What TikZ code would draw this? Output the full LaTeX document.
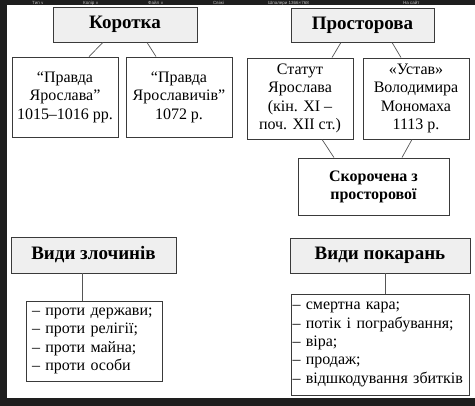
\documentclass[tikz,border=0pt]{standalone}
\usepackage{fontspec}
\setmainfont{Liberation Serif}
\newfontfamily\uisans{Liberation Sans}
\newfontfamily\symfont{DejaVu Sans}
\definecolor{hdrfill}{HTML}{EFEFEF}
\definecolor{edgec}{HTML}{3A3A3A}
\definecolor{linkc}{HTML}{555555}
\definecolor{darkbar}{HTML}{1E1E1E}
\definecolor{menutext}{HTML}{BDBDBD}
\begin{document}
\begin{tikzpicture}[x=1pt,y=-1pt,
  hdr/.style={draw=edgec, fill=hdrfill, line width=0.9pt, inner sep=0pt,
    font=\fontsize{19}{22}\selectfont\bfseries},
  srcbox/.style={draw=edgec, line width=0.9pt, inner sep=0pt, align=center,
    font=\fontsize{16}{18.6}\selectfont},
  listbox/.style={draw=edgec, line width=0.9pt, align=left,
    font=\fontsize{16}{18.4}\selectfont},
  link/.style={draw=linkc, line width=0.7pt},
  menu/.style={text=menutext, font=\uisans\fontsize{4.5}{5}\selectfont, inner sep=0pt}]
\useasboundingbox (0,0) rectangle (475,406);
% screenshot frame
\fill[darkbar] (0,0) rectangle (475,5.5);
\fill[darkbar] (0,0) rectangle (7,406);
\fill[darkbar] (0,398) rectangle (475,406);
% menu bar texts
\node[menu, anchor=base west] (m1) at (32,4.3) {Тип {\symfont\fontsize{4}{5}\selectfont∨}};
\node[menu, anchor=base west] (m2) at (83,4.3) {Колір {\symfont\fontsize{4}{5}\selectfont∨}};
\node[menu, anchor=base west] (m3) at (148,4.3) {Файл {\symfont\fontsize{4}{5}\selectfont∨}};
\node[menu, anchor=base west] (m4) at (213,4.3) {Свіжі};
\node[menu, anchor=base west] (m5) at (268,4.3) {Шпалери 1366×768};
\node[menu, anchor=base west] (m6) at (403,4.3) {На сайт};
% headers
\node[hdr, minimum width=144pt, minimum height=35pt] (korotka) at (125,24.5) {Коротка};
\node[hdr, minimum width=143pt, minimum height=34pt] (prost) at (362.5,25) {Просторова};
% source boxes
\node[srcbox, minimum width=106pt, minimum height=80pt] (pr1) at (65,97)
  {“Правда\\Ярослава”\\1015–1016 рр.};
\node[srcbox, minimum width=106pt, minimum height=80pt] (pr2) at (179,97)
  {“Правда\\Ярославичів”\\1072 р.};
\node[srcbox, minimum width=106pt, minimum height=81pt] (statut) at (300,98.5)
  {Статут\\Ярослава\\(кін. XI –\\поч. XII ст.)};
\node[srcbox, minimum width=106pt, minimum height=81pt] (ustav) at (416,98.5)
  {«Устав»\\Володимира\\Мономаха\\1113 р.};
\node[srcbox, minimum width=151pt, minimum height=57pt, font=\fontsize{16}{18}\selectfont\bfseries] (skor) at (373.5,186.5)
  {Скорочена з\\просторової};
% category headers
\node[hdr, minimum width=165pt, minimum height=36pt] (vz) at (93.5,255) {Види злочинів};
\node[hdr, minimum width=180pt, minimum height=35pt] (vp) at (380,255.5) {Види покарань};
% lists
\node[listbox, minimum width=136pt, minimum height=80pt, text width=124pt, inner xsep=6pt, inner ysep=0pt] (list1) at (94,341)
  {– проти держави;\\– проти релігії;\\– проти майна;\\– проти особи};
\node[listbox, minimum width=178pt, minimum height=101pt, text width=175pt, inner xsep=1.5pt, inner ysep=0pt] (list2) at (380,344.5)
  {– смертна кара;\\– потік і пограбування;\\– віра;\\– продаж;\\– відшкодування збитків};
% connectors
\draw[link] ([xshift=-22pt]korotka.south) -- ([xshift=24pt]pr1.north);
\draw[link] ([xshift=22pt]korotka.south) -- ([xshift=-23pt]pr2.north);
\draw[link] ([xshift=-21.5pt]prost.south) -- ([xshift=32pt]statut.north);
\draw[link] ([xshift=29.5pt]prost.south) -- ([xshift=-15pt]ustav.north);
\draw[link] ([xshift=22pt]statut.south) -- ([xshift=-39.5pt]skor.north);
\draw[link] ([xshift=-4pt]ustav.south) -- ([xshift=28.5pt]skor.north);
\draw[link] ([xshift=-11.5pt]vz.south) -- ([xshift=-12pt]list1.north);
\draw[link] ([xshift=5pt]vp.south) -- ([xshift=5pt]list2.north);
\end{tikzpicture}
\end{document}
